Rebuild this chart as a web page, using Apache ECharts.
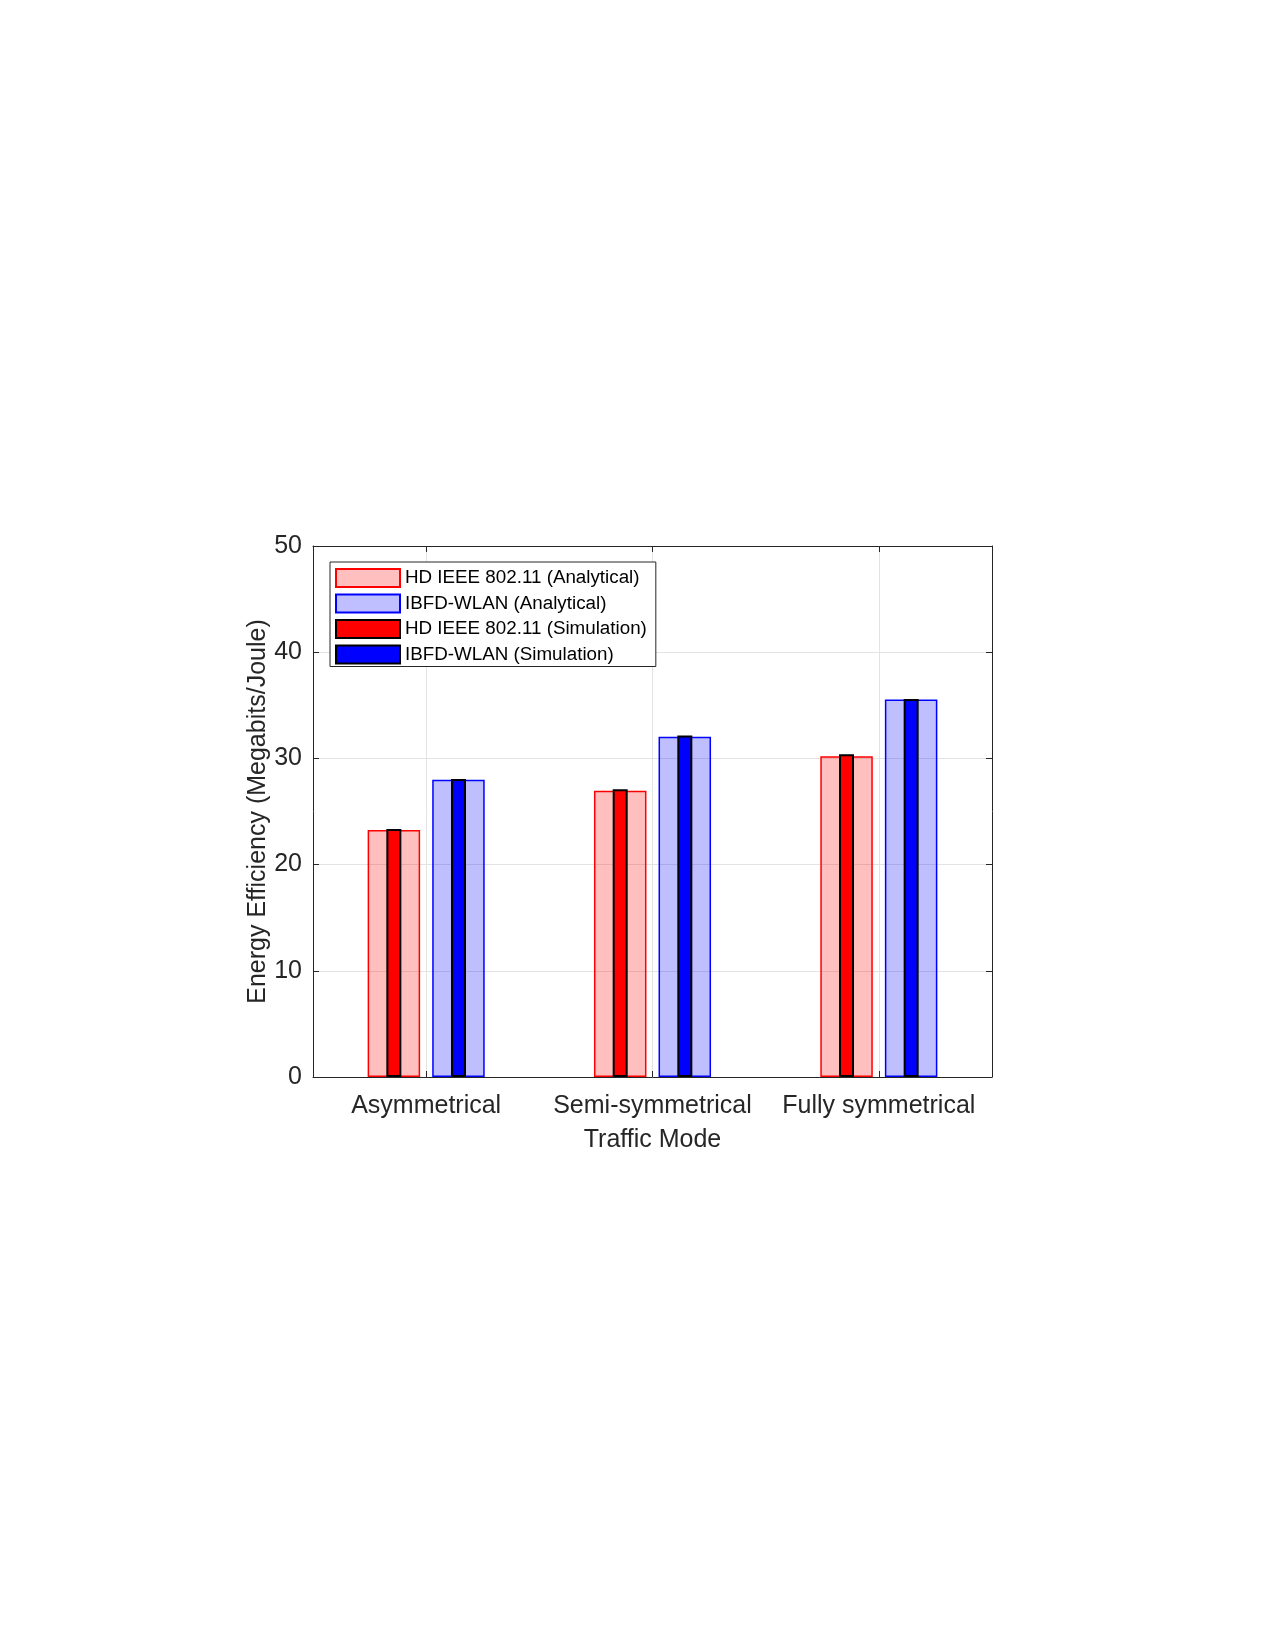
<!DOCTYPE html>
<html>
<head>
<meta charset="utf-8">
<script src="https://cdn.jsdelivr.net/npm/echarts@6/dist/echarts.min.js"></script>
<style>
  html, body { margin: 0; padding: 0; background: #fff; }
  #chart { width: 1275px; height: 1650px; }
</style>
</head>
<body>
<div id="chart"></div>
<script>
// traffic modes on the x axis
const categories = ["Asymmetrical", "Semi-symmetrical", "Fully symmetrical"];
const seriesNames = [
  "HD IEEE 802.11 (Analytical)",
  "IBFD-WLAN (Analytical)",
  "HD IEEE 802.11 (Simulation)",
  "IBFD-WLAN (Simulation)",
];
// energy efficiency, Megabits/Joule
const hdAnalytical = [23.25, 26.95, 30.2];
const ibfdAnalytical = [28.0, 32.05, 35.55];
const hdSimulation = [23.35, 27.1, 30.4];
const ibfdSimulation = [28.05, 32.15, 35.6];
const yMin = 0;
const yMax = 50;
const yStep = 10;

const FONT = "'Liberation Sans', Arial, Helvetica, sans-serif";
const AXIS = "#262626";
const GRID = "#e3e3e3";

const chart = echarts.init(document.getElementById("chart"), null, { renderer: "canvas" });

const option = {
  backgroundColor: "#fff",
  animation: false,
  textStyle: { fontFamily: FONT },
  grid: { left: 313, right: 283, top: 546, bottom: 573, containLabel: false },
  legend: {
    orient: "vertical",
    left: 330,
    top: 562,
    padding: [6, 9, 2, 5],
    itemWidth: 64,
    itemHeight: 18,
    itemGap: 5.5,
    icon: "rect",
    backgroundColor: "#fff",
    borderColor: AXIS,
    borderWidth: 1,
    textStyle: { fontSize: 18.8, color: "#000", fontFamily: FONT },
    data: seriesNames,
  },
  xAxis: [
    {
      type: "category",
      position: "bottom",
      data: categories,
      axisLine: { show: true, lineStyle: { color: AXIS, width: 1 } },
      axisTick: { show: true, inside: true, alignWithLabel: true, length: 6, lineStyle: { color: AXIS } },
      axisLabel: { fontSize: 25, color: AXIS, margin: 17, interval: 0, fontFamily: FONT },
      splitLine: { show: false },
      name: "Traffic Mode",
      nameLocation: "middle",
      nameGap: 51,
      nameMoveOverlap: false,
      nameTextStyle: { fontSize: 25, color: AXIS, fontFamily: FONT },
    },
    {
      // hidden twin axis so simulation bars sit on top of analytical ones
      type: "category",
      position: "bottom",
      data: categories,
      show: false,
    },
    {
      // top border + vertical grid lines at category centres
      type: "value",
      position: "top",
      min: 0.5,
      max: 3.5,
      splitNumber: 3,
      axisLine: { show: true, lineStyle: { color: AXIS, width: 1 } },
      axisTick: { show: true, inside: true, length: 6, lineStyle: { color: AXIS } },
      axisLabel: { show: false },
      splitLine: { show: true, showMinLine: false, showMaxLine: false, lineStyle: { color: GRID, width: 1 } },
    },
  ],
  yAxis: [
    {
      type: "value",
      position: "left",
      min: yMin,
      max: yMax,
      interval: yStep,
      axisLine: { show: true, lineStyle: { color: AXIS, width: 1 } },
      axisTick: { show: true, inside: true, length: 6, lineStyle: { color: AXIS } },
      axisLabel: { fontSize: 25, color: AXIS, margin: 11, padding: [6, 0, 0, 0], fontFamily: FONT },
      splitLine: { show: true, showMinLine: false, showMaxLine: false, lineStyle: { color: GRID, width: 1 } },
      name: "Energy Efficiency (Megabits/Joule)",
      nameLocation: "middle",
      nameRotate: 90,
      nameGap: 42,
      nameMoveOverlap: false,
      nameTextStyle: { fontSize: 25, color: AXIS, fontFamily: FONT },
    },
    {
      type: "value",
      position: "right",
      min: yMin,
      max: yMax,
      interval: yStep,
      axisLine: { show: true, lineStyle: { color: AXIS, width: 1 } },
      axisTick: { show: true, inside: true, length: 6, lineStyle: { color: AXIS } },
      axisLabel: { show: false },
      splitLine: { show: false },
    },
  ],
  series: [
    {
      name: seriesNames[0],
      type: "bar",
      xAxisIndex: 0,
      yAxisIndex: 0,
      data: hdAnalytical,
      barWidth: 52.5,
      barGap: "23%",
      itemStyle: { color: "rgba(255,0,0,0.25)", borderColor: "#ff0000", borderWidth: 1.5 },
    },
    {
      name: seriesNames[1],
      type: "bar",
      xAxisIndex: 0,
      yAxisIndex: 0,
      data: ibfdAnalytical,
      barWidth: 52.5,
      barGap: "23%",
      itemStyle: { color: "rgba(0,0,255,0.25)", borderColor: "#0000ff", borderWidth: 1.5 },
    },
    {
      name: seriesNames[2],
      type: "bar",
      xAxisIndex: 1,
      yAxisIndex: 0,
      data: hdSimulation,
      barWidth: 15,
      barGap: "331%",
      itemStyle: { color: "#ff0000", borderColor: "#000", borderWidth: 2 },
    },
    {
      name: seriesNames[3],
      type: "bar",
      xAxisIndex: 1,
      yAxisIndex: 0,
      data: ibfdSimulation,
      barWidth: 15,
      barGap: "331%",
      itemStyle: { color: "#0000ff", borderColor: "#000", borderWidth: 2 },
    },
  ],
};

chart.setOption(option);
</script>
</body>
</html>
